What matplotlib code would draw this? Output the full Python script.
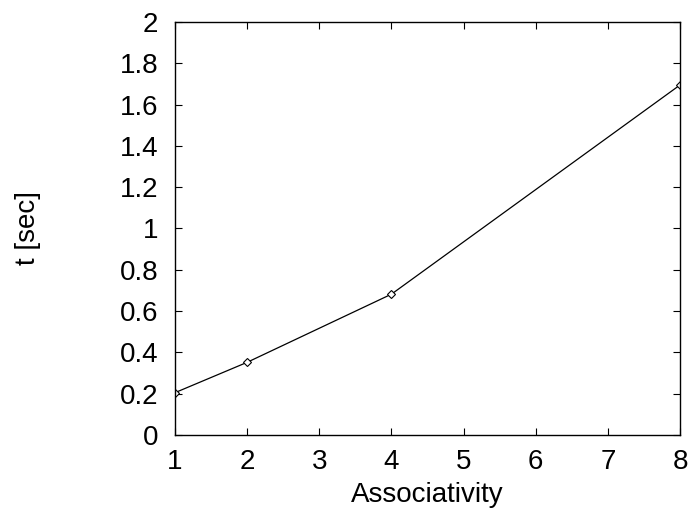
import matplotlib
matplotlib.use("Agg")
import matplotlib.pyplot as plt

associativity = [1, 2, 4, 8]
times = [0.205, 0.352, 0.682, 1.695]

plt.rcParams['font.family'] = ['Liberation Sans', 'DejaVu Sans']

fig = plt.figure(figsize=(6.92, 5.14), dpi=100)
ax = fig.add_axes([0.2529, 0.1537, 0.7298, 0.8035])

ax.plot(associativity, times, "k-", lw=0.9, marker="D", markersize=4,
        markerfacecolor="white", markeredgecolor="black", markeredgewidth=0.8)

ax.set_xlim(1, 8)
ax.set_ylim(0, 2)
ax.set_xticks(range(1, 9))
ax.set_yticks([0, 0.2, 0.4, 0.6, 0.8, 1, 1.2, 1.4, 1.6, 1.8, 2])
ax.set_yticklabels(["0", "0.2", "0.4", "0.6", "0.8", "1", "1.2", "1.4", "1.6", "1.8", "2"])
ax.tick_params(direction="in", length=5, width=0.8, labelsize=20, pad=12,
               top=True, right=True)
ax.tick_params(axis="x", pad=10)
for s in ax.spines.values():
    s.set_linewidth(1.0)

ax.set_xlabel("Associativity", fontsize=20, labelpad=5)
ax.set_ylabel("t [sec]", fontsize=20, labelpad=57)

fig.savefig("out.png", dpi=100)
